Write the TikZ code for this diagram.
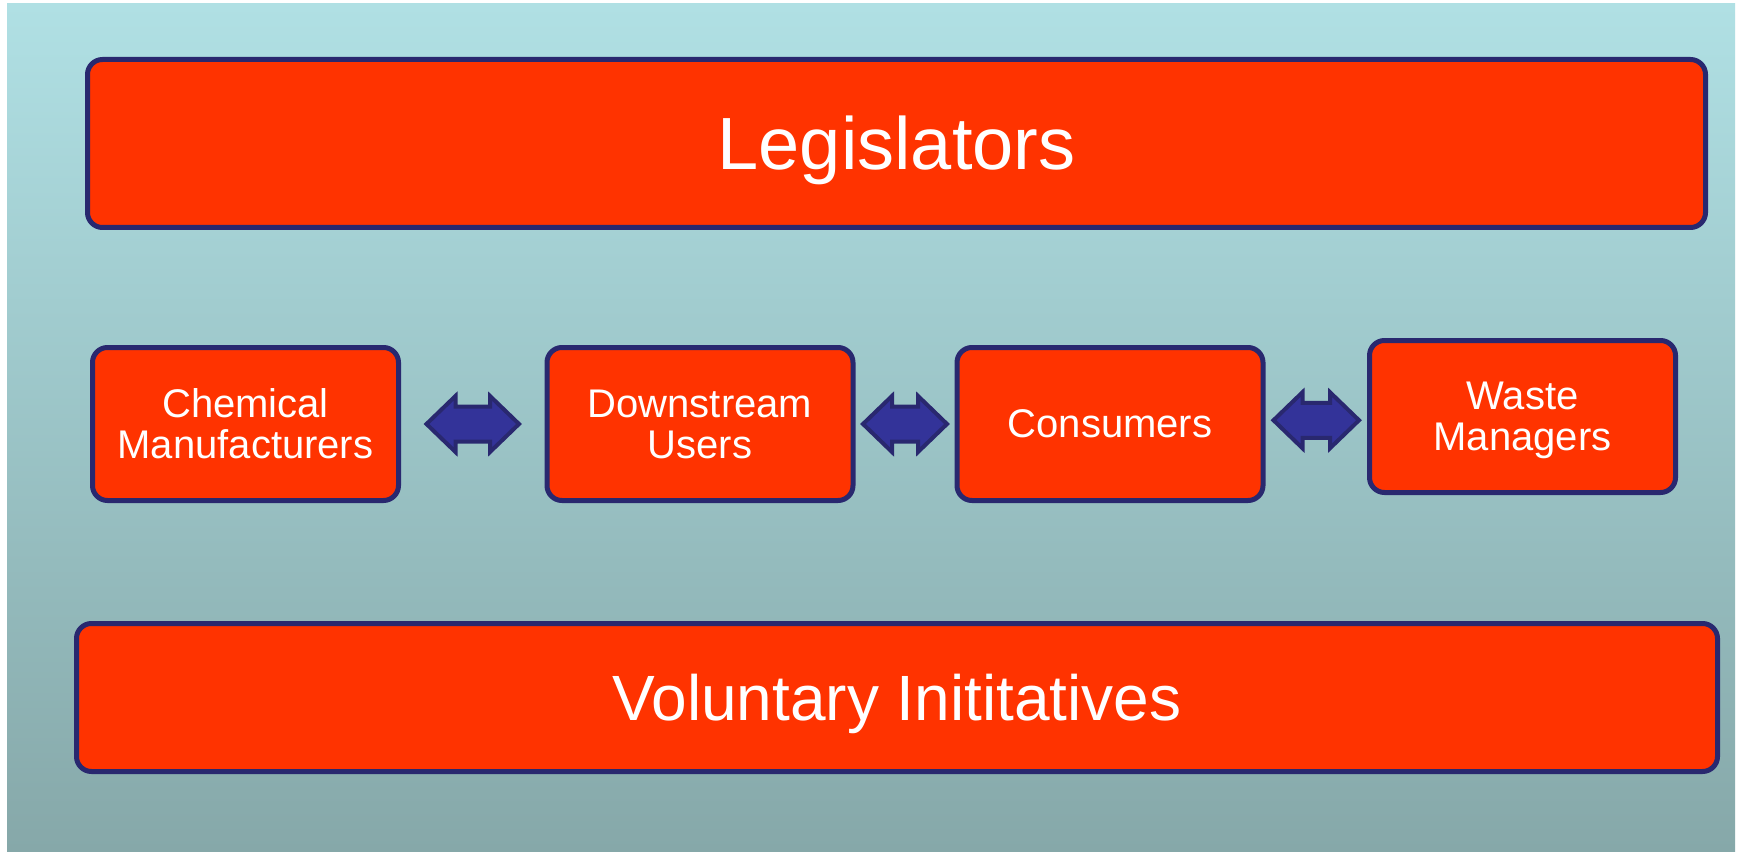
\documentclass[tikz,border=0pt]{standalone}
\usepackage{fontspec}
\setmainfont{Liberation Sans}
\usepackage{tikz}
\usetikzlibrary{calc,positioning}
\definecolor{kastenrot}{HTML}{FF3300}
\definecolor{randblau}{HTML}{29286F}
\definecolor{pfeilblau}{HTML}{333399}
\definecolor{hgoben}{HTML}{B0E0E4}
\definecolor{hgunten}{HTML}{86A8A9}
\begin{document}
\begin{tikzpicture}[x=1pt,y=-1pt,
  kasten/.style={draw=randblau,fill=kastenrot,line width=5pt,rounded corners=15pt,
    text=white,inner sep=0pt,outer sep=0pt,align=center},
  mitte/.style={kasten,minimum width=306pt,minimum height=153pt,text depth=0pt,
    font=\fontsize{40}{41}\selectfont},
  blockpfeil/.style={draw=randblau,fill=pfeilblau,line width=4pt,line join=miter}]
%Alles in Pixeln, y zeigt nach unten
\useasboundingbox (0,0) rectangle (1738,853);
\fill[white] (0,0) rectangle (1738,853);
\shade[top color=hgoben,bottom color=hgunten] (7,4) rectangle (1735,851);
%oben und unten die breiten Kaesten
\node[kasten,minimum width=1618pt,minimum height=168pt,font=\fontsize{74}{80}\selectfont,
  text depth=2pt] (legis) at (896.5,143.5) {Legislators};
\node[kasten,minimum width=1641pt,minimum height=148pt,font=\fontsize{64}{70}\selectfont,
  text depth=1pt] (volun) at (897,697.5) {Voluntary Inititatives};
%die Kette in der Mitte
\node[mitte] (chem) at (245.5,424) {Chemical\\Manufacturers};
\node[mitte] (dsu) at (700,424) {Downstream\\Users};
\node[mitte] (cons) at (1110,424) {Consumers};
\node[mitte,minimum height=152pt] (waste) at (1522.5,416.5) {Waste\\Managers};
%Doppelpfeile: Spitze - Kopf 29 lang, Kopf halb 28, Schaft halb 17.5
\foreach \links/\rechts/\abstand in {chem/dsu/28,dsu/cons/10,cons/waste/10.5}{
  \coordinate (M) at ($(\links.east)!0.5!(\rechts.west)$);
  \coordinate (L) at ($(\links.east)+(\abstand,0)$);
  \coordinate (R) at ($(\rechts.west)-(\abstand,0)$);
  \draw[blockpfeil] (L |- M) -- ++(29,-28) -- ++(0,10.5) -- ($(R |- M)+(-29,-17.5)$) -- ++(0,-10.5)
    -- (R |- M) -- ++(-29,28) -- ++(0,-10.5) -- ($(L |- M)+(29,17.5)$) -- ++(0,10.5) -- cycle;
}
\end{tikzpicture}
\end{document}
